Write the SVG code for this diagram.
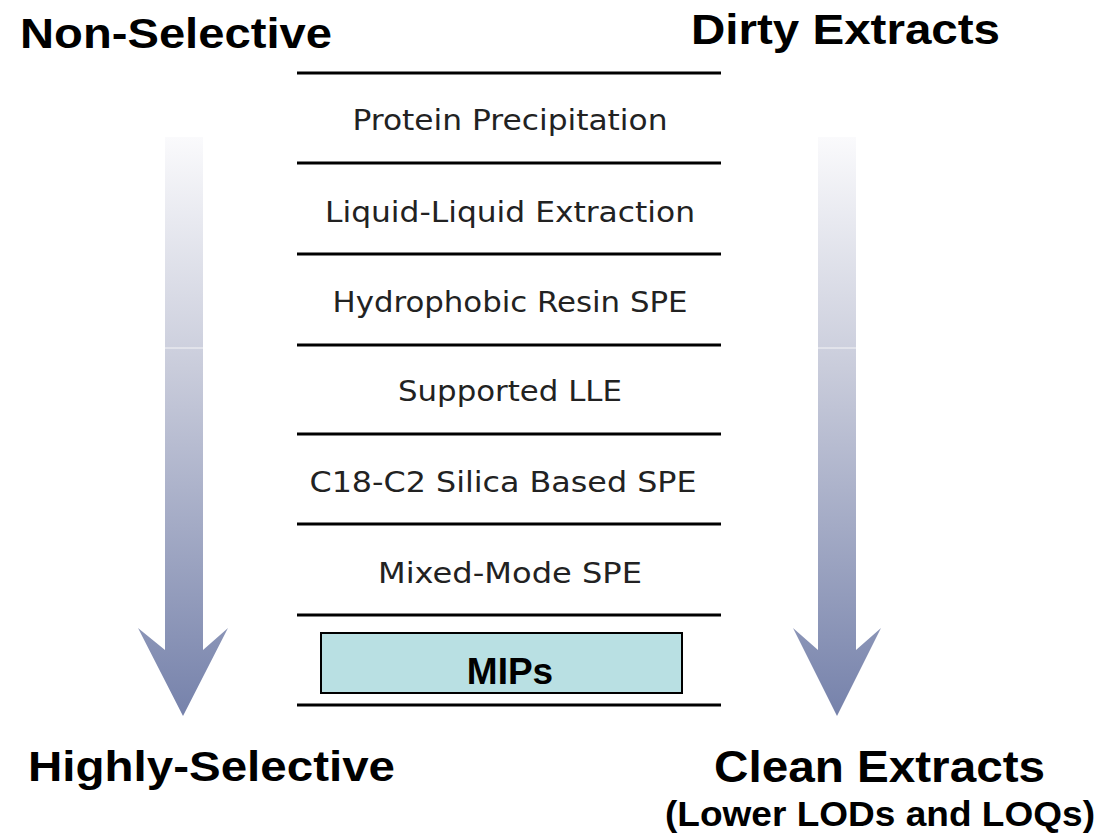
<svg xmlns="http://www.w3.org/2000/svg" width="1100" height="835" viewBox="0 0 1100 835">
<defs>
<linearGradient id="ag" x1="0" y1="0" x2="0" y2="1">
<stop offset="0" stop-color="#fafafc"/>
<stop offset="0.4" stop-color="#c9ccdb"/>
<stop offset="1" stop-color="#7682ab"/>
</linearGradient>
<style>
.h{font-family:"Liberation Sans",Arial,sans-serif;font-weight:bold;fill:#000}
.t{font-family:"DejaVu Sans","Liberation Sans",sans-serif;font-size:29px;fill:#222;text-anchor:middle}
.ln{stroke:#000;stroke-width:3}
</style>
</defs>
<rect width="1100" height="835" fill="#fff"/>
<g id="arrow-left">
<path d="M165,137 H203 V650 L228,628 L183,716 L138,628 L165,650 Z" fill="url(#ag)"/>
<line x1="165" y1="348" x2="203" y2="348" stroke="#fff" stroke-width="1" opacity="0.8"/>
</g>
<g id="arrow-right">
<path d="M818,137 H856 V650 L881,628 L837,716 L793,628 L818,650 Z" fill="url(#ag)"/>
<line x1="818" y1="348" x2="856" y2="348" stroke="#fff" stroke-width="1" opacity="0.8"/>
</g>
<g id="labels">
<text class="h" x="20" y="48" font-size="43" textLength="312" lengthAdjust="spacingAndGlyphs">Non-Selective</text>
<text class="h" x="691" y="44" font-size="43" textLength="309" lengthAdjust="spacingAndGlyphs">Dirty Extracts</text>
<text class="h" x="28" y="781" font-size="43" textLength="367" lengthAdjust="spacingAndGlyphs">Highly-Selective</text>
<text class="h" x="714" y="782" font-size="44" textLength="331" lengthAdjust="spacingAndGlyphs">Clean Extracts</text>
<text class="h" x="665" y="826" font-size="35" textLength="430" lengthAdjust="spacingAndGlyphs">(Lower LODs and LOQs)</text>
</g>
<g id="connectors">
<line class="ln" x1="297" y1="73" x2="721" y2="73"/>
<line class="ln" x1="297" y1="163" x2="721" y2="163"/>
<line class="ln" x1="297" y1="254" x2="721" y2="254"/>
<line class="ln" x1="297" y1="345" x2="721" y2="345"/>
<line class="ln" x1="297" y1="434" x2="721" y2="434"/>
<line class="ln" x1="297" y1="524" x2="721" y2="524"/>
<line class="ln" x1="297" y1="615" x2="721" y2="615"/>
<line class="ln" x1="297" y1="705" x2="721" y2="705"/>
</g>
<g id="n1"><text class="t" x="510" y="130" textLength="315" lengthAdjust="spacingAndGlyphs">Protein Precipitation</text></g>
<g id="n2"><text class="t" x="510" y="222" textLength="370" lengthAdjust="spacingAndGlyphs">Liquid-Liquid Extraction</text></g>
<g id="n3"><text class="t" x="510" y="312" textLength="355" lengthAdjust="spacingAndGlyphs">Hydrophobic Resin SPE</text></g>
<g id="n4"><text class="t" x="510" y="401" textLength="224" lengthAdjust="spacingAndGlyphs">Supported LLE</text></g>
<g id="n5"><text class="t" x="503" y="492" textLength="387" lengthAdjust="spacingAndGlyphs">C18-C2 Silica Based SPE</text></g>
<g id="n6"><text class="t" x="510" y="583" textLength="264" lengthAdjust="spacingAndGlyphs">Mixed-Mode SPE</text></g>
<g id="n7">
<rect x="321" y="633" width="361" height="60" fill="#b9e0e3" stroke="#000" stroke-width="2"/>
<text class="h" x="510" y="684" font-size="37" text-anchor="middle">MIPs</text>
</g>
</svg>
